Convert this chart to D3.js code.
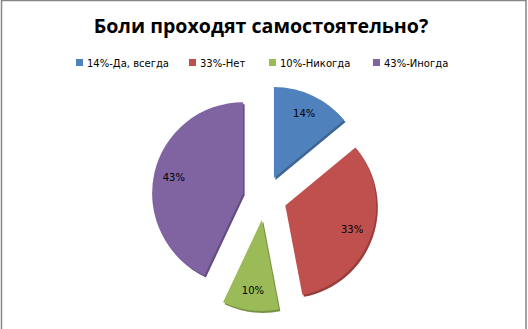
<!DOCTYPE html>
<html>
<head>
<meta charset="utf-8">
<script src="https://cdn.jsdelivr.net/npm/d3@7"></script>
<style>
  body { margin: 0; background: #fff; }
  svg { display: block; }
</style>
</head>
<body>
<script>
const width = 528;
const height = 329;

const title = "Боли проходят самостоятельно?";
const categories = ["14%-Да, всегда", "33%-Нет", "10%-Никогда", "43%-Иногда"];
const values = [14, 33, 10, 43];
const valueLabels = ["14%", "33%", "10%", "43%"];
const colors = ["#4f81bd", "#c0504d", "#9bbb59", "#8064a2"];

const cx = 264.6;
const cy = 198;
const radius = 91;
const explode = 22;

const svg = d3.select("body").append("svg")
	.attr("width", width)
	.attr("height", height);

svg.append("rect")
	.attr("x", 1.5).attr("y", 0.5)
	.attr("width", 524.5).attr("height", height + 10)
	.attr("fill", "#fff")
	.attr("stroke", "#868686")
	.attr("stroke-width", 1.5);

svg.append("text")
	.attr("x", 261)
	.attr("y", 33)
	.attr("text-anchor", "middle")
	.attr("font-family", "'Open Sans', sans-serif")
	.attr("font-weight", "bold")
	.attr("font-size", 19.6)
	.attr("fill", "#000")
	.text(title);

// legend
const legendX = [76, 189, 269, 373];
const legend = svg.append("g");
categories.forEach(function (c, i) {
	legend.append("rect")
		.attr("x", legendX[i]).attr("y", 59)
		.attr("width", 7).attr("height", 7)
		.attr("fill", colors[i]);
	legend.append("text")
		.attr("x", legendX[i] + 11)
		.attr("y", 66.5)
		.attr("font-family", "'DejaVu Sans', sans-serif")
		.attr("font-size", 10)
		.attr("fill", "#000")
		.text(c);
});

const pie = d3.pie().sort(null).value(d => d);
const arcs = pie(values);

const arc = d3.arc().innerRadius(0).outerRadius(radius);
const labelArc = d3.arc().innerRadius(radius * 0.78).outerRadius(radius * 0.78);

function offset(d) {
	const a = (d.startAngle + d.endAngle) / 2;
	return [cx + explode * Math.sin(a), cy - explode * Math.cos(a)];
}

const slices = svg.append("g")
	.selectAll("g")
	.data(arcs)
	.join("g")
	.attr("transform", d => "translate(" + offset(d) + ")");

// darker rim for the bevel look
slices.append("path")
	.attr("d", arc)
	.attr("transform", "translate(1.5,2)")
	.attr("fill", (d, i) => d3.color(colors[i]).darker(0.7));

slices.append("path")
	.attr("d", arc)
	.attr("fill", (d, i) => colors[i]);

slices.append("text")
	.attr("transform", d => "translate(" + labelArc.centroid(d) + ")")
	.attr("text-anchor", "middle")
	.attr("dy", "0.35em")
	.attr("font-family", "'DejaVu Sans', sans-serif")
	.attr("font-size", 10)
	.attr("fill", "#000")
	.text((d, i) => valueLabels[i]);
</script>
</body>
</html>
